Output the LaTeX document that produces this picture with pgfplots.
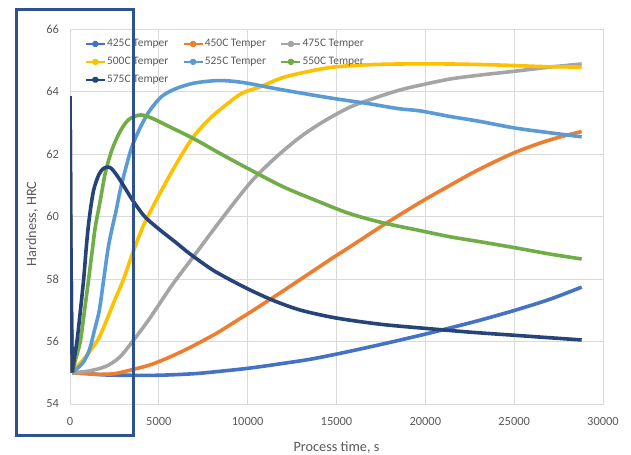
\documentclass[border=0pt]{standalone}
\usepackage{pgfplots}
\pgfplotsset{compat=1.18}
\usepackage{fontspec}
\setmainfont{Carlito}
\definecolor{cA}{HTML}{4472C4}
\definecolor{cB}{HTML}{ED7D31}
\definecolor{cC}{HTML}{A5A5A5}
\definecolor{cD}{HTML}{FFC000}
\definecolor{cE}{HTML}{5B9BD5}
\definecolor{cF}{HTML}{70AD47}
\definecolor{cG}{HTML}{264478}
\definecolor{gridc}{HTML}{D9D9D9}
\definecolor{labc}{HTML}{595959}
\definecolor{annot}{RGB}{47,82,143}
\begin{document}
\begin{tikzpicture}
\begin{axis}[
  at={(70bp,51bp)}, anchor=south west,
  scale only axis, width=533bp, height=375bp,
  xmin=0, xmax=30000, ymin=54, ymax=66,
  xtick={0,5000,...,30000}, ytick={54,56,...,66},
  scaled x ticks=false,
  /pgf/number format/1000 sep={},
  /pgf/number format/assume math mode=true,
  grid=major, grid style={draw=gridc, line width=0.75bp},
  axis line style={draw=gridc, line width=0.75bp},
  major tick length=0pt,
  tick label style={font=\fontsize{12.5}{14}\selectfont, text=labc},
  xticklabel style={yshift=-9.5bp},
  yticklabel style={xshift=-7.5bp},
  xlabel={Process time, s}, ylabel={Hardness, HRC},
  label style={font=\fontsize{14.3}{16}\selectfont, text=labc},
  xlabel style={at={(axis description cs:0.5,-0.115)}, anchor=center},
  ylabel style={at={(axis description cs:-0.0713,0.48)}, anchor=center},
  legend columns=3,
  legend cell align=left,
  legend style={draw=none, fill=none, inner sep=0pt,
    at={(axis description cs:0.028,0.9847)}, anchor=north west,
    font=\fontsize{11.5}{13}\selectfont, text=labc,
    nodes={inner xsep=1.5bp, inner ysep=4.5bp, font=\fontsize{11.5}{13}\selectfont},
    /tikz/every even column/.append style={column sep=13bp}},
  legend image code/.code={\draw[#1, line width=1.5bp] (0bp,0bp) -- (19bp,0bp); \fill[#1] (9.5bp,0bp) circle (1.7bp);},
  every axis plot/.append style={line width=3.6bp, line join=round, mark=none},
]
\addplot[cA, smooth, tension=0.5] coordinates {(130,55.0)(1000,54.97)(2000,54.93)(3000,54.92)(5000,54.92)(7000,54.97)(8500,55.05)(10130,55.15)(12000,55.3)(13500,55.43)(15030,55.6)(16500,55.78)(18000,55.97)(20100,56.25)(21500,56.45)(23000,56.67)(25050,57.0)(27000,57.35)(28800,57.74)};
\addlegendentry{425C Temper}
\addplot[cB, smooth, tension=0.5] coordinates {(130,55.0)(800,54.98)(1500,54.95)(2500,54.97)(3500,55.1)(4500,55.25)(5400,55.45)(6370,55.7)(7300,55.97)(8270,56.27)(9200,56.6)(10130,56.93)(11000,57.25)(12000,57.62)(13400,58.15)(14800,58.68)(15760,59.03)(17620,59.72)(19700,60.45)(21400,61.0)(23000,61.5)(25050,62.05)(27000,62.45)(28800,62.72)};
\addlegendentry{450C Temper}
\addplot[cC, smooth, tension=0.5] coordinates {(130,55.0)(1000,55.05)(2000,55.2)(2800,55.5)(3585,56.05)(4500,56.75)(5740,57.8)(6940,58.71)(8440,59.85)(10130,61.07)(11500,61.85)(12950,62.54)(14300,63.05)(15760,63.5)(17200,63.8)(18580,64.05)(19700,64.2)(21400,64.4)(23000,64.52)(25050,64.65)(27000,64.78)(28800,64.88)};
\addlegendentry{475C Temper}
\addplot[cD, smooth, tension=0.5] coordinates {(130,55.0)(400,55.2)(800,55.45)(1200,55.75)(1615,56.1)(2000,56.6)(2500,57.3)(3020,58.0)(3490,58.77)(4150,59.73)(5070,60.75)(6000,61.7)(6930,62.54)(7900,63.15)(8840,63.6)(9700,63.95)(10700,64.15)(12000,64.45)(13500,64.65)(14800,64.78)(16500,64.85)(18500,64.88)(21400,64.88)(24000,64.85)(26500,64.8)(28800,64.78)};
\addlegendentry{500C Temper}
\addplot[cE, smooth, tension=0.5] coordinates {(130,55.0)(700,55.3)(1000,55.6)(1180,55.9)(1350,56.3)(1650,57.0)(1900,58.0)(2150,59.0)(2400,59.7)(2600,60.2)(2830,60.85)(3115,61.5)(3490,62.24)(4000,62.9)(4500,63.4)(5180,63.85)(6000,64.1)(7000,64.27)(8300,64.35)(9300,64.32)(10130,64.25)(11500,64.1)(13000,63.95)(14800,63.78)(16700,63.62)(18500,63.45)(19700,63.38)(21400,63.2)(23000,63.05)(25050,62.83)(27000,62.68)(28800,62.55)};
\addlegendentry{525C Temper}
\addplot[cF, smooth, tension=0.5] coordinates {(130,55.0)(300,55.4)(580,56.0)(820,57.0)(1050,58.0)(1250,58.9)(1425,59.67)(1710,60.53)(1990,61.4)(2360,62.13)(2800,62.7)(3300,63.1)(3960,63.25)(4600,63.15)(5500,62.9)(6930,62.5)(8500,62.0)(10130,61.5)(12000,60.95)(13900,60.5)(15700,60.1)(17600,59.8)(19700,59.55)(21400,59.35)(23000,59.2)(25050,59.0)(27000,58.8)(28800,58.64)};
\addlegendentry{550C Temper}
\addplot[cG, smooth, tension=0.5] coordinates {(130,55.0)(250,55.5)(390,56.0)(550,56.8)(770,58.0)(900,58.9)(1015,59.6)(1145,60.2)(1333,60.85)(1615,61.33)(1850,61.52)(2080,61.58)(2300,61.55)(2600,61.35)(3000,61.0)(3550,60.5)(4200,60.0)(5000,59.6)(6000,59.15)(6760,58.8)(8000,58.3)(9000,57.98)(10130,57.65)(11500,57.3)(13000,57.0)(15000,56.75)(17500,56.55)(20000,56.42)(22500,56.3)(25000,56.2)(27000,56.12)(28800,56.05)};
\addlegendentry{575C Temper}
\addplot[cA, forget plot] coordinates {(0,63.85)(40,60)(80,57)(130,55.0)};
\addplot[cD, forget plot] coordinates {(0,63.85)(40,60)(80,57)(130,55.0)};
\addplot[cG, forget plot] coordinates {(0,63.85)(40,60)(80,57)(130,55.0)};
\end{axis}
\draw[annot, line width=3bp] (16bp,19bp) rectangle (133bp,445bp);
\pgfresetboundingbox
\useasboundingbox (0,0) rectangle (631bp,455bp);
\end{tikzpicture}
\end{document}
